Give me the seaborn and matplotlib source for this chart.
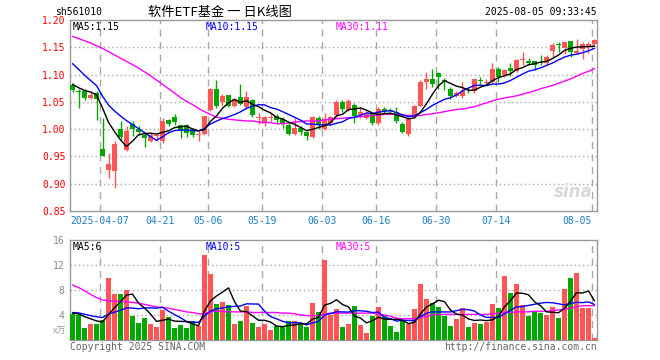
import numpy as np
import pandas as pd
import matplotlib
matplotlib.use('Agg')
import matplotlib.pyplot as plt
import seaborn as sns

# daily K data, sh561010, 2025-03-28 .. 2025-08-05
opens = [1.080, 1.069, 1.070, 1.057, 1.066, 0.964, 0.925, 0.924, 1.000, 0.962,
         1.010, 1.000, 0.990, 0.978, 0.987, 0.979, 1.016, 1.022, 1.007, 1.008,
         1.000, 0.990, 0.992, 1.035, 1.073, 1.050, 1.062, 1.042, 1.058, 1.040,
         1.054, 1.020, 1.014, 1.021, 1.024, 1.019, 1.007, 0.991, 1.003, 0.995,
         0.986, 1.021, 1.000, 1.011, 1.025, 1.050, 1.035, 1.045, 1.025, 1.021,
         1.027, 1.011, 1.036, 1.034, 1.032, 1.010, 0.991, 1.023, 1.043, 1.087,
         1.091, 1.103, 1.090, 1.074, 1.061, 1.060, 1.070, 1.069, 1.089, 1.085,
         1.086, 1.110, 1.100, 1.112, 1.107, 1.126, 1.124, 1.124, 1.123, 1.122,
         1.144, 1.155, 1.148, 1.161, 1.140, 1.146, 1.150, 1.156]
highs = [1.085, 1.074, 1.074, 1.070, 1.070, 1.021, 0.957, 0.979, 1.015, 1.005,
         1.015, 1.005, 0.993, 0.993, 0.992, 1.020, 1.019, 1.027, 1.008, 1.010,
         1.003, 0.998, 1.025, 1.075, 1.090, 1.065, 1.062, 1.057, 1.082, 1.070,
         1.056, 1.030, 1.025, 1.030, 1.027, 1.023, 1.012, 1.021, 1.006, 0.997,
         1.025, 1.024, 1.030, 1.024, 1.053, 1.053, 1.055, 1.047, 1.040, 1.033,
         1.030, 1.040, 1.040, 1.038, 1.040, 1.013, 1.023, 1.045, 1.090, 1.105,
         1.110, 1.104, 1.094, 1.077, 1.070, 1.087, 1.076, 1.092, 1.095, 1.092,
         1.122, 1.113, 1.111, 1.122, 1.128, 1.142, 1.130, 1.125, 1.135, 1.135,
         1.157, 1.159, 1.160, 1.161, 1.165, 1.159, 1.159, 1.165]
lows = [1.068, 1.039, 1.054, 1.055, 1.016, 0.950, 0.910, 0.893, 0.980, 0.960,
        0.988, 0.990, 0.967, 0.976, 0.978, 0.975, 1.005, 1.007, 0.983, 0.985,
        0.985, 0.978, 0.990, 1.033, 1.039, 1.042, 1.040, 1.040, 1.044, 1.037,
        1.022, 1.010, 1.005, 1.015, 1.010, 1.003, 0.989, 0.989, 0.990, 0.980,
        0.983, 1.000, 0.999, 1.008, 1.022, 1.032, 1.033, 1.012, 1.020, 1.019,
        1.008, 1.008, 1.030, 1.030, 1.012, 0.993, 0.988, 1.020, 1.040, 1.073,
        1.078, 1.073, 1.072, 1.056, 1.058, 1.057, 1.067, 1.066, 1.083, 1.080,
        1.084, 1.086, 1.095, 1.098, 1.105, 1.118, 1.117, 1.108, 1.118, 1.117,
        1.132, 1.142, 1.138, 1.132, 1.138, 1.129, 1.140, 1.153]
closes = [1.072, 1.068, 1.057, 1.062, 1.056, 0.951, 0.937, 0.972, 0.985, 0.996,
          1.000, 0.995, 0.983, 0.989, 0.988, 1.015, 1.009, 1.013, 0.997, 0.993,
          0.990, 0.992, 1.024, 1.073, 1.042, 1.060, 1.042, 1.055, 1.046, 1.058,
          1.026, 1.021, 1.022, 1.023, 1.016, 1.012, 0.991, 1.003, 0.994, 0.987,
          1.023, 1.009, 1.018, 1.022, 1.050, 1.037, 1.052, 1.024, 1.031, 1.030,
          1.011, 1.037, 1.034, 1.033, 1.015, 0.995, 1.018, 1.042, 1.086, 1.092,
          1.083, 1.095, 1.088, 1.061, 1.067, 1.070, 1.069, 1.091, 1.088, 1.086,
          1.111, 1.096, 1.108, 1.106, 1.126, 1.128, 1.122, 1.117, 1.121, 1.133,
          1.154, 1.154, 1.159, 1.141, 1.144, 1.156, 1.156, 1.163]
# closes of the 9 sessions before the window (read from the MA5/MA10 start)
prior_close = [1.170, 1.165, 1.160, 1.150, 1.145, 1.098, 1.082, 1.077, 1.081]
ma30 = [1.170, 1.166, 1.162, 1.158, 1.153, 1.148, 1.142, 1.136, 1.130, 1.124,
        1.118, 1.112, 1.105, 1.098, 1.090, 1.082, 1.074, 1.066, 1.058, 1.051,
        1.045, 1.038, 1.032, 1.027, 1.022, 1.020, 1.018, 1.017, 1.016, 1.015,
        1.015, 1.013, 1.012, 1.012, 1.010, 1.010, 1.011, 1.013, 1.014, 1.015,
        1.015, 1.015, 1.017, 1.018, 1.019, 1.020, 1.021, 1.022, 1.023, 1.024,
        1.025, 1.026, 1.027, 1.027, 1.027, 1.026, 1.025, 1.025, 1.025, 1.027,
        1.028, 1.030, 1.032, 1.034, 1.036, 1.037, 1.039, 1.041, 1.045, 1.048,
        1.052, 1.055, 1.057, 1.059, 1.061, 1.064, 1.067, 1.070, 1.074, 1.077,
        1.080, 1.084, 1.088, 1.092, 1.097, 1.102, 1.106, 1.111]

volume = [4.1, 4.0, 2.0, 2.6, 2.6, 3.2, 10.0, 7.4, 7.4, 8.0,
          3.9, 2.8, 3.5, 2.6, 2.1, 4.8, 3.7, 1.9, 2.4, 1.9,
          3.0, 2.2, 13.6, 10.6, 5.8, 6.1, 5.6, 2.6, 3.0, 5.4,
          2.7, 2.1, 2.6, 1.6, 2.2, 2.2, 3.0, 3.0, 2.6, 2.1,
          5.9, 4.5, 12.8, 4.0, 5.0, 2.1, 2.6, 5.4, 2.4, 1.2,
          3.9, 5.3, 3.9, 2.2, 1.3, 3.2, 2.5, 5.0, 9.0, 6.6,
          5.9, 5.3, 3.9, 2.2, 3.4, 5.2, 2.1, 2.7, 2.6, 2.9,
          5.8, 5.1, 10.2, 7.5, 9.0, 5.6, 3.9, 4.6, 4.4, 4.0,
          5.3, 3.5, 8.2, 10.0, 10.8, 5.1, 5.1, 0.3]
prior_vol = [4.6, 4.2, 4.8, 4.4, 4.5, 4.6, 4.2, 4.3, 4.3]
vol_ma30 = [8.8, 8.4, 7.9, 7.3, 6.8, 6.4, 6.3, 6.2, 6.2, 6.1,
            6.0, 5.9, 5.7, 5.5, 5.3, 5.2, 5.1, 4.9, 4.7, 4.5,
            4.4, 4.2, 4.2, 4.5, 4.6, 4.6, 4.5, 4.5, 4.5, 4.5,
            4.4, 4.4, 4.4, 4.4, 4.4, 4.3, 4.3, 4.2, 4.0, 3.9,
            3.9, 3.9, 4.1, 4.3, 4.3, 4.3, 4.3, 4.3, 4.3, 4.3,
            4.3, 4.1, 4.0, 3.8, 3.5, 3.4, 3.4, 3.4, 3.6, 3.8,
            4.0, 4.1, 4.1, 4.1, 4.1, 4.1, 4.1, 4.1, 4.1, 4.1,
            4.2, 4.3, 4.4, 4.4, 4.5, 4.5, 4.5, 4.6, 4.6, 4.6,
            4.7, 4.8, 4.9, 5.1, 5.3, 5.5, 5.5, 5.5]

date_labels = ['2025-04-07', '04-21', '05-06', '05-19', '06-03', '06-16', '06-30', '07-14', '08-05']
date_index = [5, 15, 23, 32, 42, 51, 61, 71, 87]
price_ticks = [0.85, 0.90, 0.95, 1.00, 1.05, 1.10, 1.15, 1.20]
vol_ticks = [4, 8, 12, 16]

RED = '#ff5555'
GREEN = '#00a800'

n = len(closes)
df = pd.DataFrame({'x': np.arange(n), 'open': opens, 'high': highs, 'low': lows,
                   'close': closes, 'vol': volume, 'ma30': ma30, 'vma30': vol_ma30})
c_all = pd.Series(prior_close + closes)
v_all = pd.Series(prior_vol + volume)
df['ma5'] = c_all.rolling(5).mean().values[len(prior_close):]
df['ma10'] = c_all.rolling(10).mean().values[len(prior_close):]
df['vma5'] = v_all.rolling(5).mean().values[len(prior_vol):]
df['vma10'] = v_all.rolling(10).mean().values[len(prior_vol):]
df['up'] = df['close'] >= df['open']
colors = np.where(df['up'], RED, GREEN)

sns.set_style('white')
plt.rcParams['font.family'] = ['DejaVu Sans Mono', 'Noto Sans CJK SC']

W, H = 660, 360
fig = plt.figure(figsize=(6.6, 3.6), dpi=100)


def box(l, t, r, b):
    return [l / W, 1 - b / H, (r - l) / W, (b - t) / H]


ax = fig.add_axes(box(70, 20, 597, 211))
axv = fig.add_axes(box(70, 240, 597, 340))
xlim = (-5 / 12, n - 0.5 - 1 / 12)

# candles
ax.vlines(df['x'], df['low'], df['high'], colors=colors, lw=1, zorder=3)
body_lo = np.minimum(df['open'], df['close'])
body_h = np.maximum(np.abs(df['close'] - df['open']), 0.0016)
ax.bar(df['x'], body_h, bottom=body_lo, width=0.8, color=colors, linewidth=0, zorder=4)
sns.lineplot(data=df, x='x', y='ma30', color='#ff00ff', lw=1, ax=ax, zorder=5)
sns.lineplot(data=df, x='x', y='ma10', color='#0000ff', lw=1, ax=ax, zorder=5)
sns.lineplot(data=df, x='x', y='ma5', color='black', lw=1, ax=ax, zorder=6)

# volume
axv.bar(df['x'], df['vol'], width=0.8, color=colors, linewidth=0, zorder=3)
sns.lineplot(data=df, x='x', y='vma30', color='#ff00ff', lw=1, ax=axv, zorder=5)
sns.lineplot(data=df, x='x', y='vma10', color='#0000ff', lw=1, ax=axv, zorder=5)
sns.lineplot(data=df, x='x', y='vma5', color='black', lw=1, ax=axv, zorder=6)

grid_c = '#a8a8a8'
for a, ylo, yhi, hticks in [(ax, 0.85, 1.20, price_ticks[1:-1]), (axv, 0, 16, vol_ticks[:-1])]:
    a.set_xlim(*xlim)
    a.set_ylim(ylo, yhi)
    for t in hticks:
        a.axhline(t, color=grid_c, lw=1, ls=(0, (1, 2)), zorder=1)
    for di in date_index:
        a.axvline(di - 5 / 12, color=grid_c, lw=1, ls=(0, (5, 4)), zorder=1)
    for s in a.spines.values():
        s.set_color('#999999')
        s.set_linewidth(1)
    a.set_xticks([])
    a.set_xlabel('')
    a.set_ylabel('')

ax.set_yticks(price_ticks)
ax.set_yticklabels(['%.2f' % t for t in price_ticks], color='red', fontsize=7)
ax.tick_params(axis='y', length=0, pad=3)
axv.set_yticks(vol_ticks)
axv.set_yticklabels([str(t) for t in vol_ticks], color='#888888', fontsize=7)
axv.tick_params(axis='y', length=0, pad=4)


def ftext(x, y, s, **kw):
    fig.text(x / W, 1 - y / H, s, va='center', **kw)


# date labels
for lab, di in zip(date_labels, date_index):
    px = 70 + 6 * di
    ftext(px if lab != '08-05' else px, 221, lab, color='#1a7fc8', fontsize=7,
          ha='center' if lab != '08-05' else 'right')

# header
ftext(55, 12, 'sh561010', fontsize=7, color='black')
ftext(220, 12, '软件ETF基金 一 日K线图', fontsize=9.5, color='black', ha='center',
      family=['Noto Sans CJK SC', 'DejaVu Sans'])
ftext(597, 12, '2025-08-05 09:33:45', fontsize=7, color='black', ha='right')

# MA legends
ftext(73, 27, 'MA5:1.15', fontsize=7, color='black')
ftext(206, 27, 'MA10:1.15', fontsize=7, color='#0000ff')
ftext(336, 27, 'MA30:1.11', fontsize=7, color='#ff00ff')
ftext(73, 247, 'MA5:6', fontsize=7, color='black')
ftext(206, 247, 'MA10:5', fontsize=7, color='#0000ff')
ftext(336, 247, 'MA30:5', fontsize=7, color='#ff00ff')

ftext(66, 331, 'x万', fontsize=6.5, color='#999999', ha='right',
      family=['Noto Sans CJK SC', 'DejaVu Sans'])
ftext(70, 347, 'Copyright 2025 SINA.COM', fontsize=7, color='#666666')
ftext(597, 347, 'http://finance.sina.com.cn', fontsize=7, color='#666666', ha='right')
ftext(593, 192, 'sina', fontsize=12, color='#d8d8d8', ha='right',
      family='DejaVu Sans', style='italic', weight='bold')

fig.savefig('out.png', dpi=100)
